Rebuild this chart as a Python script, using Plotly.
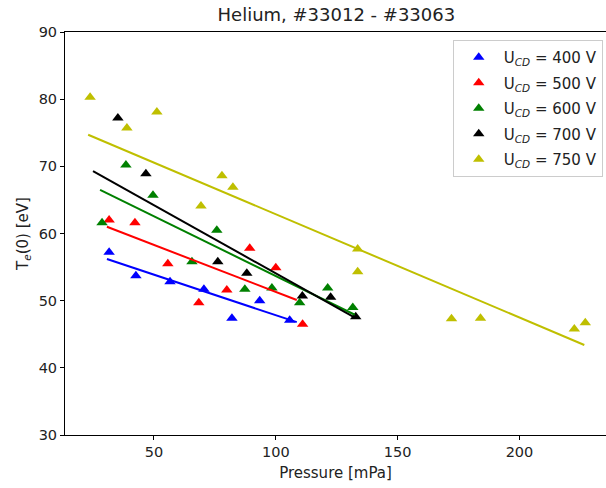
import plotly.graph_objects as go

# ---- data ----
labels = ["400", "500", "600", "700", "750"]
colors = ["#0000FF", "#FF0000", "#008000", "#000000", "#BFBF00"]

p400 = [31.6, 42.6, 56.6, 70.5, 82.0, 93.4, 105.7]
t400 = [57.2, 53.7, 52.8, 51.7, 47.4, 50.0, 47.1]

p500 = [31.6, 42.2, 55.7, 68.4, 79.9, 89.3, 100.0, 111.0]
t500 = [62.0, 61.6, 55.5, 49.7, 51.6, 57.8, 54.9, 46.5]

p600 = [28.7, 38.5, 49.6, 65.6, 75.8, 87.3, 98.4, 109.8, 121.3, 131.6]
t600 = [61.6, 70.2, 65.7, 55.8, 60.5, 51.7, 51.9, 49.7, 51.9, 49.0]

p700 = [35.2, 46.7, 76.2, 88.1, 110.9, 122.5, 132.8]
t700 = [77.2, 68.9, 55.8, 54.1, 50.7, 50.5, 47.6]

p750 = [23.8, 38.9, 51.2, 69.3, 77.9, 82.4, 133.6, 133.6, 172.1, 184.0, 222.5, 227.0]
t750 = [80.3, 75.7, 78.1, 64.1, 68.6, 66.9, 57.7, 54.3, 47.3, 47.4, 45.8, 46.7]

# fitted line end points
fit_p = [[30.7, 108.6], [30.7, 108.6], [27.9, 132.4], [25.0, 132.8], [23.0, 226.6]]
fit_t = [[56.2, 46.8], [61.0, 50.1], [66.5, 47.9], [69.3, 47.4], [74.7, 43.4]]

P = [p400, p500, p600, p700, p750]
T = [t400, t500, t600, t700, t750]

fig = go.Figure()
for i in range(5):
    fig.add_trace(go.Scatter(
        x=P[i], y=T[i], mode="markers",
        marker=dict(symbol="triangle-up", size=10, color=colors[i]),
        name=f"U<sub><i>CD</i></sub> = {labels[i]} V",
        legendgroup=f"g{i}",
    ))
for i in range(5):
    fig.add_trace(go.Scatter(
        x=fit_p[i], y=fit_t[i], mode="lines",
        line=dict(color=colors[i], width=2),
        showlegend=False, hoverinfo="skip",
    ))

font = "DejaVu Sans, sans-serif"
fig.update_layout(
    width=606, height=488,
    margin=dict(l=65, r=0, t=32, b=53),
    paper_bgcolor="white", plot_bgcolor="white",
    font=dict(family=font, size=14.5, color="#222"),
    title=dict(text="Helium, #33012 - #33063", x=0.555, xanchor="center",
               y=0.969, yanchor="middle", font=dict(size=18, color="#222")),
    showlegend=True,
    legend=dict(x=0.994, xanchor="right", y=0.98, yanchor="top",
                bordercolor="#cccccc", borderwidth=1, bgcolor="white",
                font=dict(size=15, color="#222"), traceorder="grouped",
                tracegroupgap=3, itemwidth=40),
    xaxis=dict(range=[13.5, 235.5], tickvals=[50, 100, 150, 200],
               showgrid=False, zeroline=False, showline=True, linecolor="#000",
               linewidth=1, mirror=True, ticks="outside", ticklen=4,
               tickcolor="#000", tickfont=dict(size=14.5),
               title=dict(text="Pressure [mPa]", standoff=8, font=dict(size=15))),
    yaxis=dict(range=[30, 90], tickvals=[30, 40, 50, 60, 70, 80, 90],
               showgrid=False, zeroline=False, showline=True, linecolor="#000",
               linewidth=1, ticks="outside", ticklen=4, tickcolor="#000",
               tickfont=dict(size=14.5),
               title=dict(text="T<sub><i>e</i></sub>(0) [eV]", standoff=6,
                          font=dict(size=15))),
)

fig.write_html("out.html")
